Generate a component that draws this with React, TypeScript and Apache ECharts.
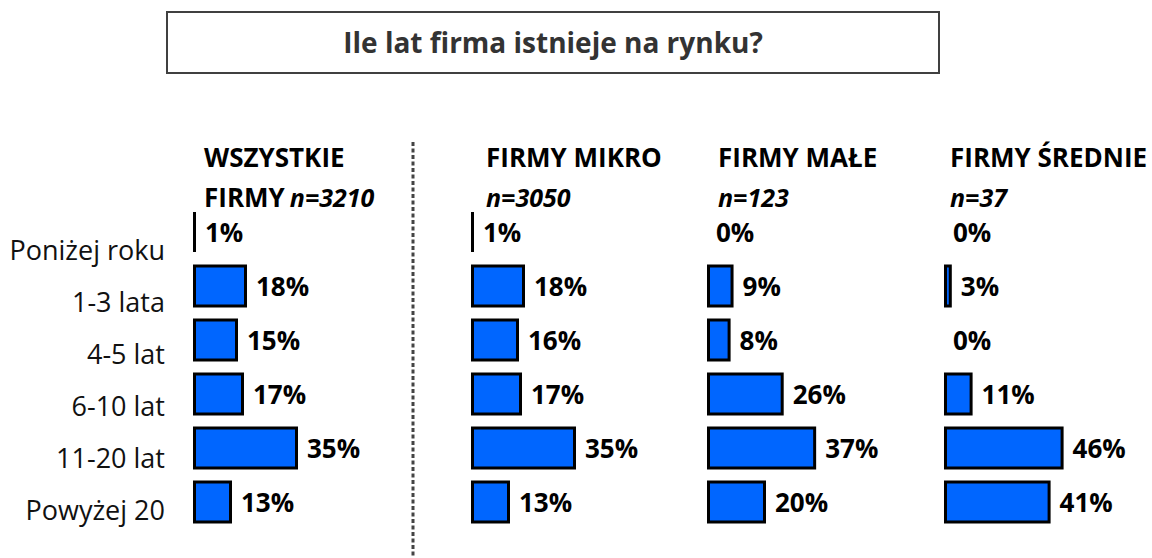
import React, { useEffect, useRef } from 'react';
import * as echarts from 'echarts';

const categories = ['Poniżej roku', '1-3 lata', '4-5 lat', '6-10 lat', '11-20 lat', 'Powyżej 20'];
const allFirms = [1, 18, 15, 17, 35, 13];
const microFirms = [1, 18, 16, 17, 35, 13];
const smallFirms = [0, 9, 8, 26, 37, 20];
const mediumFirms = [0, 3, 0, 11, 46, 41];
const panelNames = ['WSZYSTKIE FIRMY', 'FIRMY MIKRO', 'FIRMY MAŁE', 'FIRMY ŚREDNIE'];
const sampleSizes = ['n=3210', 'n=3050', 'n=123', 'n=37'];
const chartTitle = 'Ile lat firma istnieje na rynku?';

const FONT = '"Open Sans", "Noto Sans", sans-serif';

export default function App() {
  const ref = useRef<HTMLDivElement>(null);
  useEffect(() => {
    if (!ref.current) return;
    const chart = echarts.init(ref.current, undefined, { renderer: 'svg' });
    const panels = [
      { data: allFirms, left: 193, width: 150, max: 50, headX: 204 },
      { data: microFirms, left: 471, width: 150, max: 50, headX: 486 },
      { data: smallFirms, left: 707, width: 147.5, max: 50, headX: 718 },
      { data: mediumFirms, left: 944, width: 130, max: 50, headX: 950 },
    ];
    const grids: any[] = panels.map((p) => ({ left: p.left, width: p.width, top: 205, bottom: 29 }));
    grids.push({ left: 193, width: 10, top: 223, bottom: 23 });
    const xAxes: any[] = panels.map((p, i) => ({
      type: 'value', gridIndex: i, min: 0, max: p.max, show: false,
    }));
    xAxes.push({ type: 'value', gridIndex: 4, min: 0, max: 1, show: false });
    const yAxes: any[] = panels.map((p, i) => ({
      type: 'category', gridIndex: i, data: categories, inverse: true, show: false,
    }));
    yAxes.push({
      type: 'category', gridIndex: 4, data: categories, inverse: true,
      axisLine: { show: false }, axisTick: { show: false }, splitLine: { show: false },
      axisLabel: { margin: 28, fontFamily: FONT, fontSize: 27, color: '#111' },
    });
    const rich = {
      b: { fontFamily: FONT, fontSize: 26, fontWeight: 'bold', color: '#000', lineHeight: 40 },
      i: { fontFamily: FONT, fontSize: 25, fontWeight: 'bold', fontStyle: 'italic', color: '#000', lineHeight: 40 },
    };
    const titles: any[] = panels.map((p, i) => {
      let text: string;
      if (i === 0) {
        const parts = panelNames[0].split(' ');
        text = `{b|${parts[0]}}\n{b|${parts[1]}} {i|${sampleSizes[0]}}`;
      } else {
        text = `{b|${panelNames[i]}}\n{i|${sampleSizes[i]}}`;
      }
      return { text, left: p.headX, top: 137, padding: 0, textStyle: { rich } };
    });
    const series: any[] = panels.map((p, i) => ({
      type: 'bar', xAxisIndex: i, yAxisIndex: i, barWidth: 43,
      data: p.data.map((v) => (v === 0 ? { value: v, itemStyle: { borderWidth: 0 } } : v)),
      itemStyle: { color: '#0066ff', borderColor: '#000', borderWidth: 3 },
      label: {
        show: true, position: 'right', distance: 9, formatter: '{c}%',
        fontFamily: FONT, fontSize: 26, fontWeight: 'bold', color: '#000',
      },
    }));
    chart.setOption({
      animation: false,
      backgroundColor: '#fff',
      title: titles,
      grid: grids,
      xAxis: xAxes,
      yAxis: yAxes,
      series,
      graphic: [
        {
          type: 'rect', shape: { x: 167, y: 12, width: 772, height: 61 },
          style: { fill: '#fff', stroke: '#404040', lineWidth: 2 },
        },
        {
          type: 'text', x: 553, y: 42,
          style: {
            text: chartTitle, font: `bold 28px ${FONT}`, fill: '#333',
            textAlign: 'center', textVerticalAlign: 'middle',
          },
        },
        {
          type: 'line', shape: { x1: 413, y1: 142, x2: 413, y2: 558 },
          style: { stroke: '#444', lineWidth: 3, lineDash: [4, 2.5] },
        },
      ],
    });
    return () => chart.dispose();
  }, []);
  return <div ref={ref} style={{ position: 'fixed', left: 0, top: 0, width: 1152, height: 558 }} />;
}
